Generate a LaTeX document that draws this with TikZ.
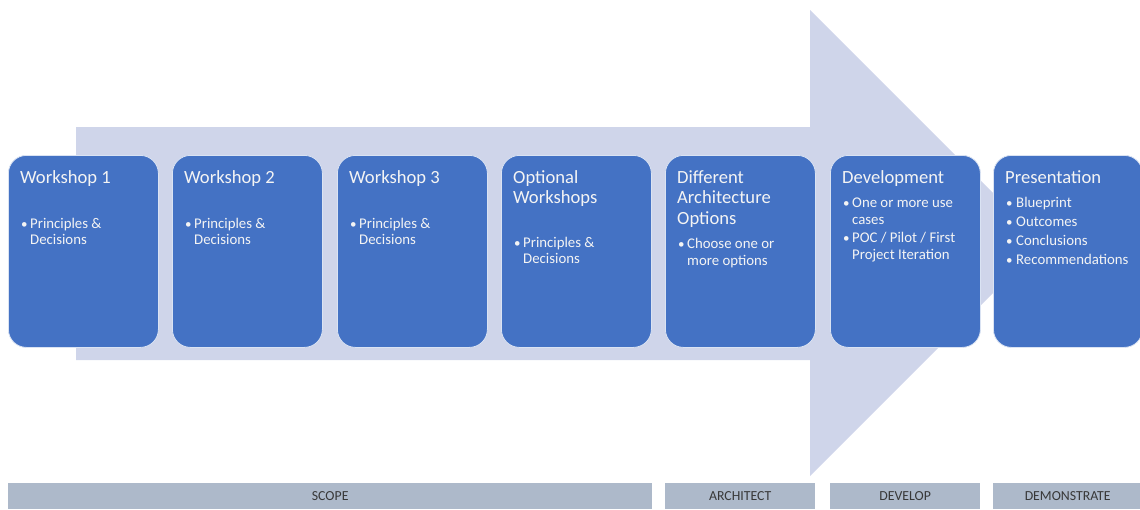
\documentclass[tikz,border=0pt]{standalone}
\usepackage{fontspec}
\setmainfont{Carlito}
\definecolor{arrowc}{HTML}{CFD5EA}
\definecolor{boxc}{HTML}{4472C4}
\definecolor{barc}{HTML}{ADB9CA}
\definecolor{bartext}{HTML}{383838}
\definecolor{txt}{HTML}{F4F4F4}
\begin{document}
\begin{tikzpicture}[x=1pt,y=-1pt,
  stage/.style={draw=white!80!boxc, line width=0.8pt, fill=boxc, rounded corners=18pt,
    minimum width=150pt, minimum height=192pt, anchor=north west, inner sep=0pt},
  ttl/.style={anchor=base west, text=txt, font=\fontsize{18.6}{20}\selectfont, inner sep=0pt},
  itm/.style={anchor=base west, text=txt, font=\fontsize{14.8}{16}\selectfont, inner sep=0pt},
  dot/.style={anchor=base west, text=txt, font=\fontsize{13}{14}\selectfont, inner sep=0pt},
  bar/.style={fill=barc, anchor=north west, minimum height=26pt, inner sep=0pt,
    text=bartext, font=\fontsize{13.8}{15}\selectfont}]
\useasboundingbox (0,0) rectangle (1140,509);
% big arrow
\fill[arrowc] (76,127) -- (810,127) -- (810,10) -- (1043,243) -- (810,476) -- (810,360) -- (76,360) -- cycle;
% stage boxes
\node[stage] (b1) at (8,155) {};
\node[stage] (b2) at (172,155) {};
\node[stage] (b3) at (337,155) {};
\node[stage] (b4) at (501,155) {};
\node[stage] (b5) at (665,155) {};
\node[stage] (b6) at (830,155) {};
\node[stage, minimum width=149pt] (b7) at (993,155) {};
% Workshop 1
\node[ttl] (t1) at (20,183.5) {Workshop 1};
\node[dot] (d1) at (21,228.5) {\textbullet};
\node[itm] (i1a) at (30,228.5) {Principles \&};
\node[itm] (i1b) at (30,244.5) {Decisions};
% Workshop 2
\node[ttl] (t2) at (184,183.5) {Workshop 2};
\node[dot] (d2) at (185,228.5) {\textbullet};
\node[itm] (i2a) at (194,228.5) {Principles \&};
\node[itm] (i2b) at (194,244.5) {Decisions};
% Workshop 3
\node[ttl] (t3) at (349,183.5) {Workshop 3};
\node[dot] (d3) at (350,228.5) {\textbullet};
\node[itm] (i3a) at (359,228.5) {Principles \&};
\node[itm] (i3b) at (359,244.5) {Decisions};
% Optional workshops
\node[ttl] (t4a) at (513,183.5) {Optional};
\node[ttl] (t4b) at (513,203.5) {Workshops};
\node[dot] (d4) at (514,247.5) {\textbullet};
\node[itm] (i4a) at (523,247.5) {Principles \&};
\node[itm] (i4b) at (523,263.5) {Decisions};
% Different architecture options
\node[ttl] (t5a) at (677,183.5) {Different};
\node[ttl] (t5b) at (677,203.5) {Architecture};
\node[ttl] (t5c) at (677,224) {Options};
\node[dot] (d5) at (678,248.5) {\textbullet};
\node[itm] (i5a) at (687,248.5) {Choose one or};
\node[itm] (i5b) at (687,265.5) {more options};
% Development
\node[ttl] (t6) at (842,183.5) {Development};
\node[dot] (d6a) at (843,207.5) {\textbullet};
\node[itm] (i6a) at (852,207.5) {One or more use};
\node[itm] (i6b) at (852,224) {cases};
\node[dot] (d6b) at (843,242) {\textbullet};
\node[itm] (i6c) at (852,242) {POC / Pilot / First};
\node[itm] (i6d) at (852,259) {Project Iteration};
% Presentation
\node[ttl] (t7) at (1005,183.5) {Presentation};
\node[dot] (d7a) at (1006,207.5) {\textbullet};
\node[itm] (i7a) at (1016,207.5) {Blueprint};
\node[dot] (d7b) at (1006,226.5) {\textbullet};
\node[itm] (i7b) at (1016,226.5) {Outcomes};
\node[dot] (d7c) at (1006,245.5) {\textbullet};
\node[itm] (i7c) at (1016,245.5) {Conclusions};
\node[dot] (d7d) at (1006,264.5) {\textbullet};
\node[itm] (i7d) at (1016,264.5) {Recommendations};
% phase bars
\node[bar, minimum width=644pt] (p1) at (8,483) {SCOPE};
\node[bar, minimum width=150pt] (p2) at (665,483) {ARCHITECT};
\node[bar, minimum width=150pt] (p3) at (830,483) {DEVELOP};
\node[bar, minimum width=149pt] (p4) at (993,483) {DEMONSTRATE};
\end{tikzpicture}
\end{document}
